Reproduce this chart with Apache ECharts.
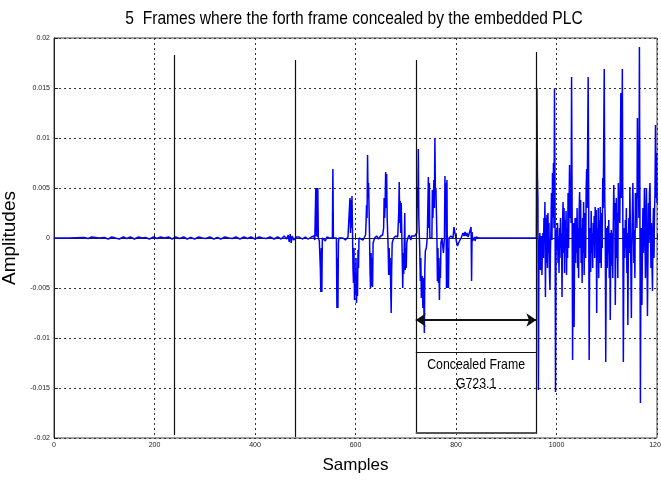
<!DOCTYPE html>
<html>
<head>
<meta charset="utf-8">
<script src="https://cdn.jsdelivr.net/npm/echarts@6/dist/echarts.min.js"></script>
<style>
  html, body { margin: 0; padding: 0; background: #fff; }
  #chart { width: 661px; height: 480px; }
</style>
</head>
<body>
<div id="chart"></div>
<script>
// 信号数据 [sample, amplitude]，按帧分段读取
const preSpeech = [
  [0,0],[30,0],[60,0.00005],[68,-0.00005],[75,0.0001],[90,0],[100,0.00005],[108,-0.0001],
  [115,0.0001],[122,0],[130,-0.0001],[138,0.0001],[145,-0.00005],[152,0.0001],[160,-0.0001],
  [168,0.0001],[175,0],[182,0.00005],[190,-0.0001],[198,0.0001],[205,-0.00005],[212,0.0001],
  [220,0],[228,0.0001],[235,-0.0001],[242,0.0001],[250,-0.00005],[258,0.0001],[265,-0.0001],
  [272,0.00005],[280,-0.0001],[288,0.0001],[295,0],[302,-0.00005],[310,0.0001],[318,-0.0001],
  [325,0.00005],[332,-0.0001],[340,0.0001],[348,0],[355,-0.00005],[362,0.0001],[370,-0.0001],
  [378,0.0001],[385,-0.00005],[392,0.0001],[400,-0.0001],[408,0.0001],[415,0],[422,-0.00005],
  [430,0.0001],[438,-0.0001],[445,0.0001],[452,-0.0001],[458,0.0002],[463,-0.0001],[466,0.0003],
  [468,-0.0004],[470,0.0004],[472,-0.0005],[474,0.0002],[477,-0.0002],[482,0.0001],[488,0.0001],
  [494,-0.0001],[500,0.0001],[506,-0.0001],[512,0.0001],[517,0.0002],[519,-0.0002]
];

const speechBurst = [
  [521,0.005],[522,0.0002],[523,0.005],[524,0.0001],[525,0.005],[526,0],[528,-0.0003],
  [530,-0.003],[531,-0.0054],[532,-0.001],[533,-0.0054],[534,0],[537,0.0002],[540,-0.0003],
  [543,0.0001],[548,0],[554,0],[555,0.0069],[556,0],[562,0],[563,-0.007],[564,-0.002],
  [565,-0.007],[566,-0.0005],[567,0],[570,0.0002],[575,0],[580,-0.0002],[585,0.0001],
  [588,0.0003],[589,0.004],[590,0.0005],[591,0.0038],[592,0.001],[593,0.0042],[594,0.0008],
  [595,-0.003],[596,-0.0045],[597,-0.001],[598,-0.0062],[599,-0.0035],[600,-0.0055],
  [601,-0.002],[602,-0.0065],[603,-0.004],[604,-0.0058],[605,-0.0012],[606,-0.003],[607,0],
  [610,0.0001],[615,-0.0002],[620,0.0003],[621,0.0015],[622,0.0033],[623,0.002],[624,0.0083],
  [625,0.004],[626,0.0055],[628,0],[629,-0.0035],[630,-0.005],[631,-0.0015],[632,-0.0048],
  [633,-0.002],[634,-0.0049],[635,-0.0005],[638,0],[642,0.0002],[646,-0.0001],[650,0.0002],
  [654,0.0003],[656,0.001],[657,0.004],[658,0.002],[659,0.0035],[660,0.0066],[661,0.003],
  [662,0.0064],[663,0.002],[665,-0.001],[666,-0.0037],[667,-0.001],[668,-0.0037],[669,-0.002],
  [671,-0.0075],[672,-0.003],[673,-0.0005],[676,0],[680,0.0002],[684,0.0001],[686,0.0025],
  [687,0.0056],[688,0.0015],[689,0.0037],[690,0.0005],[691,0.0035],[693,-0.002],[694,-0.005],
  [695,-0.0015],[696,-0.0036],[697,-0.001],[698,0.0025],[699,-0.0032],[700,-0.001],[701,-0.003],
  [702,-0.0005],[704,0],[707,0.0003],[710,-0.0002],[712,0.0002],[714,0.0001],[718,0.0002],
  [722,0.0005],[723,0.0051],[724,0.003],[725,0.0089],[726,0.002],[728,-0.0015],[729,-0.0043],
  [730,-0.002],[731,-0.006],[733,-0.0038],[734,-0.007],[735,-0.004],[737,-0.0095],[738,-0.003],
  [739,-0.0013],[741,-0.001],[743,0.0002],[745,0.0061],[746,0.001],[747,0.0055],[748,0],
  [750,0.0002],[752,0],[753,0.0048],[754,0.002],[756,0.0058],[757,0.003],[758,0.01],
  [759,0.0045],[760,0.005],[762,0.0002],[763,-0.0043],[764,-0.001],[765,-0.0045],[766,-0.002],
  [767,-0.0062],[768,-0.003],[769,-0.004],[770,-0.0005],[772,0],[774,0.0002],[775,-0.0015],
  [777,0],[778,0.0062],[779,0.002],[780,0.0055],[781,-0.005],[782,0.0058],[783,-0.005],
  [784,-0.001],[785,-0.005],[786,0],[790,0.0002],[792,0.0004],[794,0],[796,0.0011],[798,0.0005],
  [801,-0.0004],[803,-0.0008],[805,-0.0005],[807,-0.0003],[810,0],[812,0.0002],[814,0.0005],
  [816,0.0002],[818,0.0006],[820,0.0002],[822,0.0005],[824,0.0001],[826,0.0004],[828,0.0006],
  [830,0.0011],[831,-0.0043],[832,0.0006],[833,-0.0003],[835,-0.0002],[837,0.0001],[838,-0.0003],
  [840,0.0001],[842,-0.0001],[845,0],[960,0]
];

const lastFrame = [
  [961,0.015],[962,0.0065],[963,0.004],[964,-0.0152],[965,-0.002],[966,-0.0006],[967,0.0005],
  [968,-0.0032],[969,-0.001],[970,0.0002],[971,-0.0037],[972,-0.001],[973,0.0005],[974,-0.002],
  [975,0.002],[976,0.0005],[977,0.0036],[978,-0.0059],[979,0.002],[980,-0.0025],[981,0.0023],
  [982,-0.003],[983,0.0025],[984,-0.0015],[985,0.0015],[986,-0.0035],[987,-0.0052],[988,-0.001],
  [989,0.0011],[990,0.0045],[991,-0.0002],[992,0.0065],[993,0.002],[994,0.0075],[995,0.001],
  [996,0.0149],[997,0.006],[998,-0.0154],[999,-0.002],[1000,0.0008],[1001,-0.0012],[1002,0.0015],
  [1003,-0.0025],[1004,0.0002],[1005,-0.0035],[1006,0.001],[1007,-0.001],[1008,0.002],
  [1009,-0.002],[1010,0.0005],[1011,-0.0059],[1012,0.0012],[1013,0.0036],[1014,-0.0015],
  [1015,0.003],[1016,-0.0035],[1017,0.0018],[1018,-0.001],[1019,0.0027],[1020,-0.0037],
  [1021,0.001],[1022,-0.002],[1023,0.0045],[1024,-0.001],[1025,0.0035],[1026,0.0073],
  [1027,0.002],[1028,0.0055],[1029,0.0015],[1030,0.0161],[1031,0.004],[1032,-0.0122],
  [1033,-0.002],[1034,0.0015],[1035,-0.0089],[1036,-0.001],[1037,0.002],[1038,-0.0025],
  [1039,0.002],[1040,-0.0015],[1041,0.003],[1042,-0.003],[1043,0.001],[1044,-0.004],
  [1045,0.0025],[1046,0.0046],[1047,-0.001],[1048,0.0038],[1049,-0.0025],[1050,0.001],
  [1051,-0.0045],[1052,0.002],[1053,-0.0015],[1054,0.0036],[1055,-0.0037],[1056,0.0008],
  [1057,0.0025],[1058,-0.002],[1059,0.0048],[1060,0.0069],[1061,0.003],[1063,0.0161],
  [1064,0.005],[1065,-0.0122],[1066,-0.002],[1067,0.001],[1068,-0.0034],[1069,0.0027],
  [1070,-0.0015],[1071,0.0005],[1072,-0.003],[1073,0.0015],[1074,-0.0008],[1075,0.0022],
  [1076,-0.002],[1077,0.0031],[1078,0.0005],[1079,0.0028],[1080,-0.0075],[1081,0.001],
  [1082,-0.002],[1083,0.003],[1084,-0.004],[1085,0.0018],[1086,-0.0025],[1087,0.0031],
  [1088,0],[1089,-0.003],[1090,0.0025],[1091,-0.001],[1092,0.006],[1093,0.003],[1095,0.0169],
  [1096,0.004],[1097,0.0016],[1098,-0.0124],[1099,-0.002],[1100,0.001],[1101,-0.003],
  [1102,0.0012],[1103,-0.0015],[1104,0.0018],[1105,-0.004],[1106,0.0005],[1107,-0.0082],
  [1108,-0.001],[1109,0.0008],[1110,-0.0028],[1111,0.0005],[1112,-0.004],[1113,0.0015],
  [1114,0.0053],[1115,0.002],[1116,0.0035],[1117,-0.0067],[1118,-0.001],[1119,0.004],
  [1120,-0.002],[1121,0.0025],[1122,-0.004],[1123,0.0055],[1124,0.003],[1126,0.0015],
  [1128,0.0145],[1129,0.004],[1130,0.006],[1131,0.0169],[1132,0.002],[1133,-0.0124],
  [1134,-0.002],[1135,0.001],[1136,-0.002],[1137,0.0018],[1138,-0.001],[1139,0.003],
  [1140,-0.0035],[1141,0.0005],[1142,-0.0087],[1143,-0.001],[1144,0.002],[1145,-0.0015],
  [1146,0.0051],[1147,0.001],[1148,-0.003],[1149,-0.008],[1150,-0.001],[1151,0.0025],
  [1152,0.0055],[1153,0.001],[1154,-0.0025],[1155,0.0008],[1156,-0.004],[1157,0.0045],
  [1158,0.002],[1159,0.0045],[1160,0.001],[1161,0.012],[1162,0.004],[1163,0.0065],[1164,0.002],
  [1165,0.0191],[1166,0.003],[1167,-0.0165],[1168,-0.002],[1169,0.001],[1170,-0.0067],
  [1171,-0.001],[1172,0.003],[1173,-0.0015],[1174,0.0012],[1175,0.005],[1176,0.0005],
  [1177,-0.004],[1178,0.002],[1179,0.005],[1180,-0.001],[1181,-0.0078],[1182,-0.002],
  [1183,0.0035],[1184,-0.0005],[1185,0.0045],[1186,0.0055],[1187,0.001],[1188,-0.003],
  [1189,0.0015],[1190,-0.0025],[1191,-0.0053],[1192,0.0005],[1193,0.003],[1194,-0.002],
  [1195,0.0025],[1196,0.0045],[1197,0.0113],[1198,0.004],[1199,0.0085],[1200,0.0035]
];

// 帧边界竖线
const frameEdges = [240, 480, 720, 960];
const frameTop = [0.0183, 0.0178, 0.0178, 0.0186];
const frameBottom = [-0.0197, -0.0199, -0.0196, -0.0196];

// 隐藏帧标注
const concealedRange = [720, 960];
const arrowLevel = -0.0082;
const boxTop = -0.0114;
const boxBottom = -0.0195;
const boxLabel = ['Concealed Frame', 'G723.1'];

const titleText = '5  Frames where the forth frame concealed by the embedded PLC';

const xTicks = { min: 0, max: 1200, interval: 200 };
const yTicks = { min: -0.02, max: 0.02, interval: 0.005 };

const SANS = '"Liberation Sans", Arial, sans-serif';
const SQUEEZE = 0.82; // 原图文字横向偏窄

const chart = echarts.init(document.getElementById('chart'), null, { renderer: 'canvas' });

const frameLines = frameEdges.map((x, i) => [
  { coord: [x, frameTop[i]] },
  { coord: [x, frameBottom[i]] }
]);

function narrowText(text, x, y, size) {
  return {
    type: 'text',
    x: x, y: y,
    scaleX: SQUEEZE,
    silent: true,
    z: 10,
    style: {
      text: text,
      font: 'normal ' + size + 'px ' + SANS,
      fill: '#000',
      textAlign: 'center', align: 'center',
      textVerticalAlign: 'middle', verticalAlign: 'middle'
    }
  };
}

const option = {
  backgroundColor: '#fff',
  animation: false,
  grid: {
    left: 54, right: 4, top: 38, bottom: 42,
    outerBoundsMode: 'none',
    containLabel: false,
    show: true, borderColor: '#444', borderWidth: 1, backgroundColor: '#fff'
  },
  xAxis: {
    type: 'value',
    min: xTicks.min, max: xTicks.max, interval: xTicks.interval,
    name: 'Samples',
    nameLocation: 'middle',
    nameGap: 19,
    nameTextStyle: { fontFamily: SANS, fontSize: 17, color: '#000' },
    axisLine: { lineStyle: { color: '#222', width: 1 } },
    axisTick: { inside: true, length: 4, lineStyle: { color: '#222' } },
    axisLabel: {
      fontFamily: SANS, fontSize: 7, color: '#222', margin: 4,
      formatter: v => String(v)
    },
    splitLine: { show: true, lineStyle: { color: '#333', width: 1, type: [2, 3] } }
  },
  yAxis: {
    type: 'value',
    min: yTicks.min, max: yTicks.max, interval: yTicks.interval,
    name: 'Amplitudes',
    nameLocation: 'middle',
    nameGap: 27,
    nameRotate: 90,
    nameTextStyle: { fontFamily: SANS, fontSize: 19, color: '#000' },
    axisLine: { show: true, lineStyle: { color: '#222', width: 1 } },
    axisTick: { show: true, inside: true, length: 4, lineStyle: { color: '#222' } },
    axisLabel: {
      fontFamily: SANS, fontSize: 7, color: '#222', margin: 4,
      formatter: v => String(+v.toFixed(3))
    },
    splitLine: { show: true, lineStyle: { color: '#333', width: 1, type: [2, 3] } }
  },
  graphic: [narrowText(titleText, 354, 19, 19)],
  series: [
    {
      // 帧边界
      name: 'frames',
      type: 'line',
      data: [],
      z: 1,
      markLine: {
        silent: true,
        symbol: ['none', 'none'],
        label: { show: false },
        lineStyle: { color: '#111', width: 1.2, type: 'solid' },
        data: frameLines
      }
    },
    {
      name: 'signal',
      type: 'line',
      data: preSpeech.concat(speechBurst, lastFrame),
      showSymbol: false,
      sampling: null,
      z: 2,
      lineStyle: { color: '#0000ff', width: 1.5 },
      itemStyle: { color: '#0000ff' }
    },
    {
      // 隐藏帧标注：箭头 + 方框
      name: 'concealed',
      type: 'line',
      data: [],
      z: 3,
      markLine: {
        silent: true,
        symbol: ['none', 'none'],
        label: { show: false },
        lineStyle: { color: '#111', width: 1, type: 'solid' },
        data: [
          [{ coord: [concealedRange[0], arrowLevel], symbol: 'arrow', symbolSize: [10, 10],
             lineStyle: { width: 2 } },
           { coord: [concealedRange[1], arrowLevel], symbol: 'arrow', symbolSize: [10, 10] }],
          [{ coord: [concealedRange[0], boxTop] }, { coord: [concealedRange[1], boxTop] }],
          [{ coord: [concealedRange[0], boxBottom], lineStyle: { width: 2, color: '#555' } },
           { coord: [concealedRange[1], boxBottom] }]
        ]
      }
    }
  ]
};

chart.setOption(option);

// 方框内的文字，按坐标换算位置
const mid = (concealedRange[0] + concealedRange[1]) / 2;
const topPx = chart.convertToPixel({ gridIndex: 0 }, [mid, boxTop]);
chart.setOption({
  graphic: [
    narrowText(titleText, 354, 19, 19),
    narrowText(boxLabel[0], topPx[0], topPx[1] + 13, 15),
    narrowText(boxLabel[1], topPx[0], topPx[1] + 32, 15)
  ]
});
</script>
</body>
</html>
